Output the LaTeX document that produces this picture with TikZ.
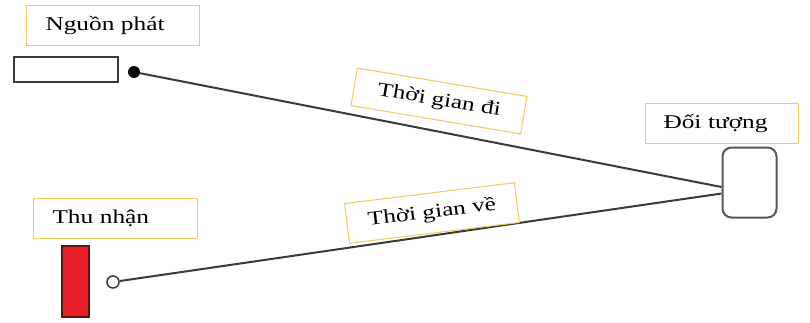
\documentclass[tikz,border=0pt]{standalone}
\usepackage{fontspec}
\setmainfont{Liberation Serif}
\newfontfamily\lblfont[FakeStretch=1.3]{Liberation Serif}
\usetikzlibrary{calc}
\definecolor{boxgold}{RGB}{238,202,95}
\definecolor{linegray}{RGB}{58,58,58}
\definecolor{rxred}{RGB}{232,30,40}
\definecolor{rxdark}{RGB}{90,20,20}
\tikzset{
  lblbox/.style={draw=boxgold, line width=1pt, fill=white, inner sep=0pt,
    font=\lblfont\fontsize{19.5}{23}\selectfont, text=black},
  tagbox/.style={lblbox, minimum height=40pt, anchor=north west, align=left, inner xsep=19pt},
  ray/.style={draw=linegray, line width=2pt},
}
\begin{document}
\begin{tikzpicture}[x=1pt,y=-1pt]
\useasboundingbox (0,0) rectangle (810,322);
% labels
\node[tagbox, minimum width=173pt, text width=135pt] (lblsrc) at (26,5) {Nguồn phát};
\node[tagbox, minimum width=164pt, text width=126pt, inner xsep=19pt] (lblrx) at (33,198) {Thu nhận};
\node[tagbox, minimum width=153pt, text width=117pt, inner xsep=18pt] (lblobj) at (645,103) {Đối tượng};
% source
\node[draw=linegray, line width=2pt, fill=white, minimum width=104pt, minimum height=25pt, inner sep=0pt] (src) at (66,69.5) {};
\node[circle, fill=black, minimum size=12pt, inner sep=0pt] (dot) at (134,72) {};
% receiver
\node[draw=rxdark, line width=2pt, fill=rxred, minimum width=27pt, minimum height=71pt, inner sep=0pt] (rx) at (75.5,281.5) {};
\node[circle, draw=linegray, line width=1.5pt, fill=white, minimum size=12pt, inner sep=0pt] (ring) at (113,282) {};
% object
\node[draw=linegray!85, line width=2pt, rounded corners=9pt, minimum width=54pt, minimum height=70pt, inner sep=0pt] (obj) at (749.5,182.5) {};
\coordinate (hitA) at ($(obj.west)+(0,4.5)$);
\coordinate (hitB) at ($(obj.west)+(0,11)$);
% rays
\draw[ray] (dot) -- (hitA);
\draw[ray] (ring) -- (hitB);
% time labels
\node[lblbox, rotate=-9.5, minimum width=172pt, minimum height=38pt] (tgo) at (439,101) {Thời gian đi};
\node[lblbox, rotate=7, minimum width=171pt, minimum height=40pt] (tback) at (432,213) {Thời gian về};
\end{tikzpicture}
\end{document}
